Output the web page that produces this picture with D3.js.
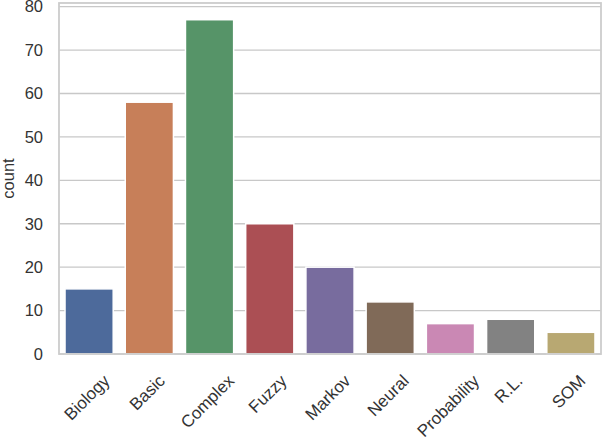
<!DOCTYPE html>
<html>
<head>
<meta charset="utf-8">
<script src="https://cdn.jsdelivr.net/npm/d3@7"></script>
<style>
  body { margin: 0; background: #fff; }
  svg { display: block; font-family: "Liberation Sans", Arial, sans-serif; }
</style>
</head>
<body>
<script>
// values
let categories = ['Biology', 'Basic', 'Complex', 'Fuzzy', 'Markov', 'Neural', 'Probability', 'R.L.', 'SOM']
let counts = [15, 58, 77, 30, 20, 12, 7, 8, 5]
let colors = ['#4d6a9b', '#c77f59', '#569468', '#ab4f54', '#786c9e', '#806a58', '#ca88b4', '#828282', '#b8a872']
let yTicks = [0, 10, 20, 30, 40, 50, 60, 70, 80]

let width = 604
let height = 440
let margin = ({top: 3, right: 3, bottom: 86, left: 59})

let data = categories.map((c, i) => ({ name: c, count: counts[i], color: colors[i] }))

let x = d3.scaleBand()
    .domain(categories)
    .range([margin.left, width - margin.right])
    .paddingInner(0.2)
    .paddingOuter(0.1)

let y = d3.scaleLinear()
    .domain([0, d3.max(counts) * 1.05])
    .range([height - margin.bottom, margin.top])

const svg = d3.select('body').append('svg')
    .attr('width', width)
    .attr('height', height)

// grid
svg.append('g')
  .selectAll('line')
  .data(yTicks)
  .join('line')
    .attr('x1', margin.left)
    .attr('x2', width - margin.right)
    .attr('y1', d => y(d))
    .attr('y2', d => y(d))
    .attr('stroke', '#c8c8c8')
    .attr('stroke-width', 1.3)

// bars
svg.append('g')
  .selectAll('rect')
  .data(data)
  .join('rect')
    .attr('x', d => x(d.name))
    .attr('y', d => y(d.count))
    .attr('width', x.bandwidth())
    .attr('height', d => y(0) - y(d.count))
    .attr('fill', d => d.color)
    .attr('stroke', '#fff')
    .attr('stroke-width', 1.5)

// frame
svg.append('rect')
    .attr('x', margin.left)
    .attr('y', margin.top)
    .attr('width', width - margin.left - margin.right)
    .attr('height', y(0) - margin.top)
    .attr('fill', 'none')
    .attr('stroke', '#cccccc')
    .attr('stroke-width', 1.8)

// y tick labels
let yAxis = g => g
    .attr('transform', `translate(${margin.left - 16},0)`)
    .call(d3.axisLeft(y).tickValues(yTicks).tickSize(0).tickPadding(0))
    .call(g => g.select('.domain').remove())
    .call(g => g.selectAll('text')
        .attr('font-size', 16.5)
        .attr('font-family', '"Liberation Sans", Arial, sans-serif')
        .attr('fill', '#333'))

svg.append('g').call(yAxis)

// x tick labels, rotated 45deg and centred under the tick
let labels = svg.append('g')
  .selectAll('text')
  .data(categories)
  .join('text')
    .text(d => d)
    .attr('font-size', 17)
    .attr('fill', '#333')
    .attr('text-anchor', 'middle')
    .attr('dominant-baseline', 'central')

labels.each(function(d) {
  let w = this.getComputedTextLength()
  let h = 17
  let boxH = (w + h) * Math.SQRT1_2
  let cx = x(d) + x.bandwidth() / 2 - 2
  let cy = y(0) + 18 + boxH / 2
  d3.select(this)
    .attr('x', cx)
    .attr('y', cy)
    .attr('transform', `rotate(-45,${cx},${cy})`)
})

// y label
svg.append('text')
    .text('count')
    .attr('font-size', 16.5)
    .attr('fill', '#333')
    .attr('text-anchor', 'middle')
    .attr('transform', `translate(14,${(y(0) + margin.top) / 2}) rotate(-90)`)
</script>
</body>
</html>
